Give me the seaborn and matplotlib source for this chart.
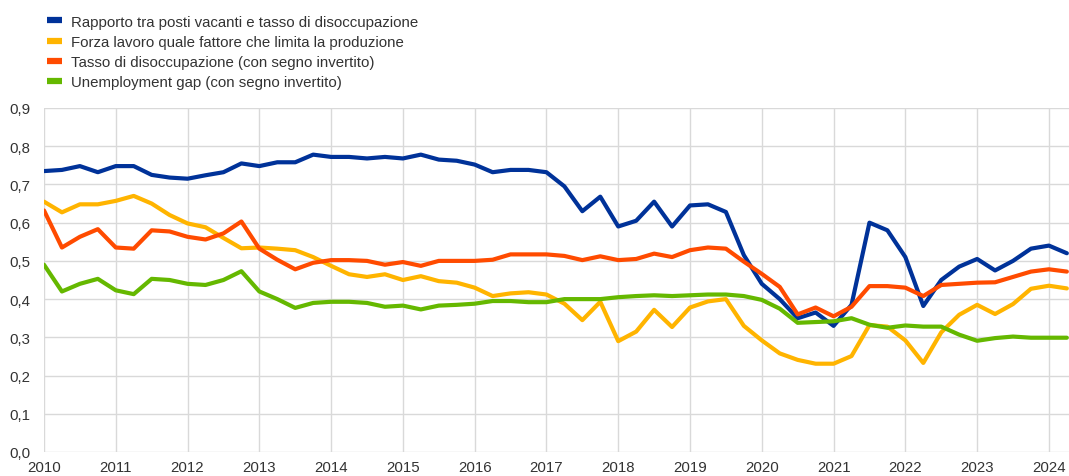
import numpy as np
import pandas as pd
import matplotlib
matplotlib.use("Agg")
import matplotlib.pyplot as plt
from matplotlib.ticker import FuncFormatter, MultipleLocator
import seaborn as sns

# Quarterly observations, 2010 Q1 - 2024 Q2
quarters = np.arange(2010, 2024.26, 0.25)

vacancy_ratio = [
    0.735, 0.738, 0.748, 0.732, 0.748, 0.748, 0.725, 0.718, 0.715, 0.724, 0.732, 0.755,
    0.748, 0.758, 0.758, 0.778, 0.772, 0.772, 0.768, 0.772, 0.768, 0.778, 0.765, 0.762,
    0.752, 0.732, 0.738, 0.738, 0.732, 0.695, 0.630, 0.668, 0.590, 0.605, 0.655, 0.590,
    0.645, 0.648, 0.628, 0.515, 0.440, 0.400, 0.350, 0.365, 0.330, 0.385, 0.600, 0.580,
    0.510, 0.382, 0.450, 0.485, 0.505, 0.475, 0.500, 0.532, 0.540, 0.520,
]
labour_constraint = [
    0.655, 0.627, 0.648, 0.648, 0.657, 0.670, 0.650, 0.620, 0.598, 0.588, 0.560, 0.533,
    0.535, 0.532, 0.528, 0.510, 0.487, 0.465, 0.458, 0.465, 0.450, 0.460, 0.447, 0.443,
    0.430, 0.408, 0.415, 0.418, 0.412, 0.388, 0.345, 0.393, 0.290, 0.315, 0.372, 0.327,
    0.378, 0.394, 0.400, 0.330, 0.292, 0.258, 0.241, 0.231, 0.231, 0.251, 0.332, 0.328,
    0.292, 0.233, 0.313, 0.359, 0.385, 0.361, 0.387, 0.427, 0.435, 0.428,
]
unemployment_rate = [
    0.632, 0.535, 0.563, 0.583, 0.535, 0.532, 0.580, 0.577, 0.563, 0.556, 0.572, 0.603,
    0.532, 0.503, 0.478, 0.495, 0.502, 0.502, 0.500, 0.490, 0.497, 0.487, 0.500, 0.500,
    0.500, 0.503, 0.517, 0.517, 0.517, 0.513, 0.502, 0.512, 0.502, 0.505, 0.519, 0.510,
    0.528, 0.535, 0.532, 0.498, 0.466, 0.432, 0.360, 0.378, 0.355, 0.380, 0.434, 0.434,
    0.430, 0.408, 0.437, 0.440, 0.443, 0.444, 0.458, 0.472, 0.478, 0.472,
]
unemployment_gap = [
    0.490, 0.420, 0.440, 0.453, 0.423, 0.413, 0.453, 0.450, 0.440, 0.437, 0.450, 0.473,
    0.420, 0.400, 0.377, 0.390, 0.393, 0.393, 0.390, 0.380, 0.383, 0.373, 0.383, 0.385,
    0.388, 0.395, 0.395, 0.392, 0.392, 0.400, 0.400, 0.400, 0.405, 0.408, 0.410, 0.408,
    0.410, 0.412, 0.412, 0.408, 0.398, 0.375, 0.338, 0.340, 0.342, 0.350, 0.333, 0.325,
    0.331, 0.328, 0.328, 0.307, 0.291, 0.298, 0.302, 0.299, 0.299, 0.299,
]

series_names = [
    "Rapporto tra posti vacanti e tasso di disoccupazione",
    "Forza lavoro quale fattore che limita la produzione",
    "Tasso di disoccupazione (con segno invertito)",
    "Unemployment gap (con segno invertito)",
]
series_colors = ["#003299", "#FFB400", "#FF4B00", "#65B800"]
year_ticks = list(range(2010, 2025))

df = pd.concat(
    [
        pd.DataFrame({"t": quarters, "valore": vals, "serie": name})
        for name, vals in zip(
            series_names,
            [vacancy_ratio, labour_constraint, unemployment_rate, unemployment_gap],
        )
    ],
    ignore_index=True,
)

sns.set_theme(style="white")
plt.rcParams["font.family"] = ["Liberation Sans", "DejaVu Sans"]
FS = 10.8

fig = plt.figure(figsize=(10.69, 4.77), dpi=100)
ax = fig.add_axes([44 / 1069, 1 - 453 / 477, 1 - 44 / 1069, (453 - 109) / 477])

sns.lineplot(
    data=df, x="t", y="valore", hue="serie", hue_order=series_names,
    palette=series_colors, linewidth=3.0, ax=ax, legend=False,
)

ax.set_xlim(2010, 2024.28)
ax.set_ylim(0, 0.9)
ax.set_xticks(year_ticks)
ax.set_xticklabels([str(y) for y in year_ticks])
ax.yaxis.set_major_locator(MultipleLocator(0.1))
ax.yaxis.set_major_formatter(FuncFormatter(lambda v, _: f"{v:.1f}".replace(".", ",")))
ax.set_xlabel("")
ax.set_ylabel("")

ax.grid(True, color="#d9d9d9", linewidth=1.0)
ax.set_axisbelow(True)
for side in ["top", "right", "left", "bottom"]:
    ax.spines[side].set_visible(False)

ax.tick_params(axis="y", which="major", labelsize=FS, colors="#d9d9d9",
               labelcolor="#333333", length=7, width=1.0, pad=3)
ax.tick_params(axis="x", which="major", labelsize=FS, colors="#d9d9d9",
               labelcolor="#333333", length=4, width=1.0, pad=1.5)

handles = [plt.Line2D([], [], color=c, linewidth=4.5, solid_capstyle="butt")
           for c in series_colors]
fig.legend(
    handles, series_names, loc="upper left", bbox_to_anchor=(41 / 1069, 1 - 9.5 / 477),
    frameon=False, fontsize=FS, handlelength=1.0, handletextpad=0.6,
    labelspacing=0.42, borderaxespad=0, labelcolor="#333333",
)

fig.savefig("out.png", dpi=100)
